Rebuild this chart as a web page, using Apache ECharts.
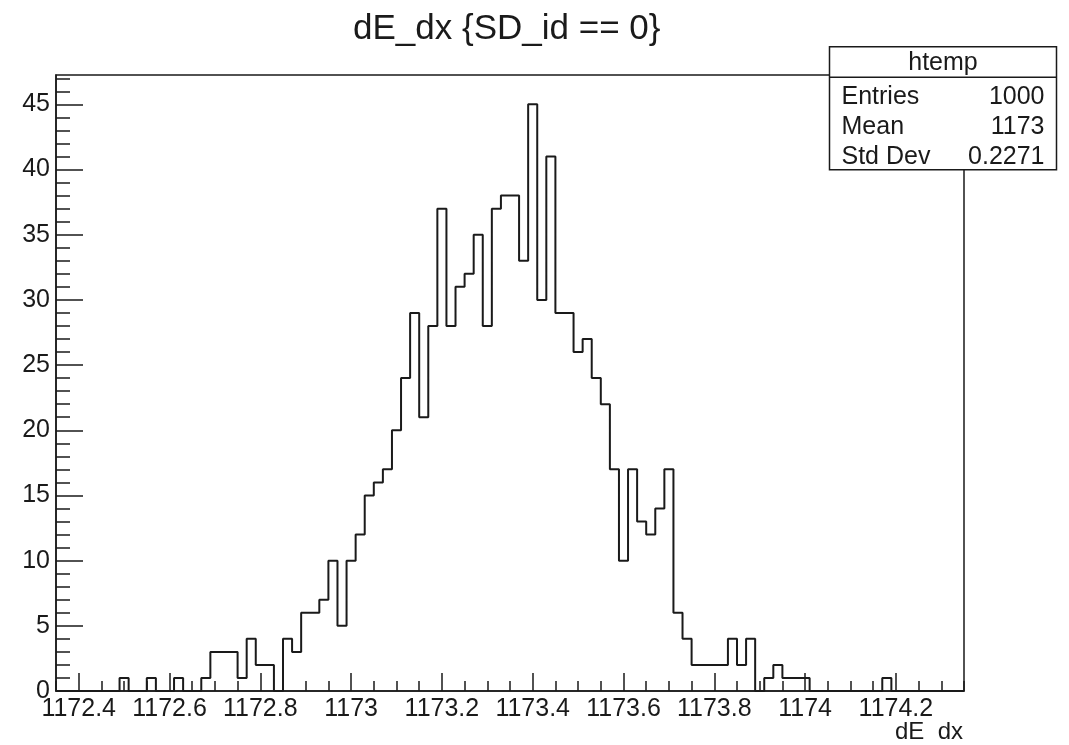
<!DOCTYPE html>
<html><head><meta charset="utf-8">
<script src="https://cdn.jsdelivr.net/npm/echarts@6/dist/echarts.min.js"></script>
<style>html,body{margin:0;padding:0;background:#fff}#c{width:1069px;height:745px}</style>
</head><body><div id="c"></div>
<script>
const titleText = 'dE_dx {SD_id == 0}';
const xAxisTitle = 'dE  dx';
const xMin = 1172.35;
const xMax = 1174.35;
const binWidth = 0.02;
const binCounts = [
  0,0,0,0,0,0,0,1,0,0,
  1,0,0,1,0,0,1,3,3,3,
  1,4,2,2,0,4,3,6,6,7,
  10,5,10,12,15,16,17,20,24,29,
  21,28,37,28,31,32,35,28,37,38,
  38,33,45,30,41,29,29,26,27,24,
  22,17,10,17,13,12,14,17,6,4,
  2,2,2,2,4,2,4,0,1,2,
  1,1,1,0,0,0,0,0,0,0,
  0,1,0,0,0,0,0,0,0,0
];
const xTickValues = [1172.4, 1172.6, 1172.8, 1173, 1173.2, 1173.4, 1173.6, 1173.8, 1174, 1174.2];
const yTickValues = [0, 5, 10, 15, 20, 25, 30, 35, 40, 45];
const yMax = 47.25;
const statsName = 'htemp';
const statsLabels = ['Entries', 'Mean', 'Std Dev'];
const statsValues = ['1000', '1173', '0.2271'];

const r2 = v => Math.round(v * 1000) / 1000;
const stepData = binCounts.map((c, i) => [r2(xMin + i * binWidth), c]);
stepData.push([r2(xMin + binCounts.length * binWidth), binCounts[binCounts.length - 1]]);

const xMinor = [];
for (let k = 0; r2(xMin + k * 0.05) <= xMax + 1e-9; k++) {
  const v = r2(xMin + k * 0.05);
  if (!xTickValues.some(t => Math.abs(t - v) < 1e-6)) xMinor.push(v);
}
const yMinor = [];
for (let v = 0; v <= Math.floor(yMax); v++) if (v % 5 !== 0) yMinor.push(v);

const FONT = 'Liberation Sans, Arial, Helvetica, sans-serif';
const INK = '#1a1a1a';
const FS = 25;

const chart = echarts.init(document.getElementById('c'), null, {renderer: 'canvas'});
chart.setOption({
  animation: false,
  backgroundColor: '#fff',
  grid: {left: 56, right: 105, top: 75, bottom: 54, show: true, borderColor: INK, borderWidth: 1.5, backgroundColor: 'transparent'},
  xAxis: [{
    type: 'value', min: xMin, max: xMax, position: 'bottom',
    axisLine: {show: true, lineStyle: {color: INK, width: 1.5}},
    axisTick: {show: true, inside: true, length: 18, customValues: xTickValues, lineStyle: {color: INK, width: 1.5}},
    axisLabel: {show: true, customValues: xTickValues, margin: 6, color: INK, fontSize: FS, fontFamily: FONT,
      formatter: v => String(parseFloat(Number(v).toFixed(2)))},
    splitLine: {show: false}
  }, {
    type: 'value', min: xMin, max: xMax, position: 'bottom',
    axisLine: {show: false},
    axisTick: {show: true, inside: true, length: 10, customValues: xMinor, lineStyle: {color: INK, width: 1.5}},
    axisLabel: {show: false},
    splitLine: {show: false}
  }],
  yAxis: [{
    type: 'value', min: 0, max: yMax, position: 'left',
    axisLine: {show: true, lineStyle: {color: INK, width: 1.5}},
    axisTick: {show: true, inside: true, length: 27, customValues: yTickValues, lineStyle: {color: INK, width: 1.5}},
    axisLabel: {show: true, customValues: yTickValues, margin: 6, color: INK, fontSize: FS, fontFamily: FONT},
    splitLine: {show: false}
  }, {
    type: 'value', min: 0, max: yMax, position: 'left', offset: 0,
    axisLine: {show: false},
    axisTick: {show: true, inside: true, length: 14, customValues: yMinor, lineStyle: {color: INK, width: 1.5}},
    axisLabel: {show: false},
    splitLine: {show: false}
  }],
  series: [{
    type: 'line', xAxisIndex: 0, yAxisIndex: 0, step: 'end', symbol: 'none',
    data: stepData,
    lineStyle: {color: INK, width: 2},
    z: 5
  }],
  graphic: [
    {type: 'text', left: 353, top: 12, z: 10, style: {text: titleText, fontSize: 35, fontFamily: FONT, fill: INK}},
    {type: 'text', right: 106, top: 720, z: 10, style: {text: xAxisTitle, fontSize: 24, fontFamily: FONT, fill: INK}},
    {type: 'group', left: 827, top: 46, z: 20, children: [
      {type: 'rect', shape: {x: 0, y: 0, width: 227, height: 123}, style: {fill: '#fff', stroke: INK, lineWidth: 1.5}},
      {type: 'line', shape: {x1: 0, y1: 30.5, x2: 227, y2: 30.5}, style: {stroke: INK, lineWidth: 1.5}},
      {type: 'text', x: 113.5, y: 16, style: {text: statsName, fontSize: FS, fontFamily: FONT, fill: INK, align: 'center', verticalAlign: 'middle'}},
      {type: 'text', x: 12, y: 50, style: {text: statsLabels[0], fontSize: FS, fontFamily: FONT, fill: INK, verticalAlign: 'middle'}},
      {type: 'text', x: 215, y: 50, style: {text: statsValues[0], fontSize: FS, fontFamily: FONT, fill: INK, align: 'right', verticalAlign: 'middle'}},
      {type: 'text', x: 12, y: 80.5, style: {text: statsLabels[1], fontSize: FS, fontFamily: FONT, fill: INK, verticalAlign: 'middle'}},
      {type: 'text', x: 215, y: 80.5, style: {text: statsValues[1], fontSize: FS, fontFamily: FONT, fill: INK, align: 'right', verticalAlign: 'middle'}},
      {type: 'text', x: 12, y: 110.5, style: {text: statsLabels[2], fontSize: FS, fontFamily: FONT, fill: INK, verticalAlign: 'middle'}},
      {type: 'text', x: 215, y: 110.5, style: {text: statsValues[2], fontSize: FS, fontFamily: FONT, fill: INK, align: 'right', verticalAlign: 'middle'}}
    ]}
  ]
});
</script></body></html>
